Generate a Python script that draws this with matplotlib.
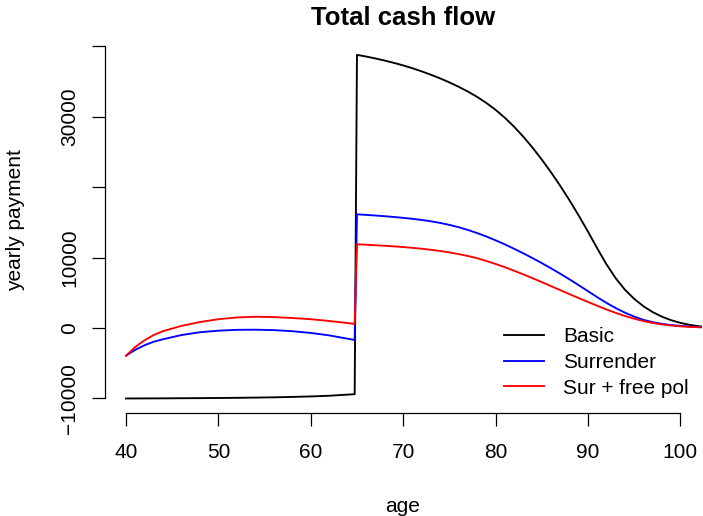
import numpy as np
import matplotlib
matplotlib.use("Agg")
import matplotlib.pyplot as plt

plt.rcParams['font.family'] = ['Liberation Sans', 'DejaVu Sans']

# ages: working years, then yearly after retirement at 65
age_pre = [40, 41, 42, 43, 44, 46, 48, 50, 52, 54, 56, 58, 60, 62, 64.75]
age_post = list(range(65, 104))
age = age_pre + age_post

basic = [-10010, -10005, -10000, -9995, -9990, -9975, -9960, -9940, -9915, -9885,
         -9845, -9790, -9720, -9620, -9400,
         38800, 38560, 38290, 37990, 37660, 37300, 36900, 36460, 35980, 35460,
         34890, 34270, 33590, 32830, 31970, 30990, 29870, 28600, 27180, 25620,
         23930, 22120, 20190, 18140, 15970, 13690, 11320, 9050, 7070, 5440,
         4140, 3090, 2260, 1610, 1110, 730, 450, 250, 110]

surrender = [-3930, -3100, -2450, -1950, -1600, -1000, -600, -380, -260, -240,
             -300, -450, -700, -1050, -1700,
             16150, 16070, 15980, 15880, 15770, 15650, 15510, 15350, 15160, 14930,
             14650, 14320, 13930, 13490, 13000, 12460, 11880, 11260, 10610, 9930,
             9220, 8480, 7710, 6910, 6080, 5230, 4380, 3570, 2830, 2180,
             1620, 1160, 830, 590, 420, 300, 210, 150, 110]

sur_free = [-3930, -2700, -1750, -1000, -450, 300, 850, 1250, 1500, 1600,
            1550, 1420, 1250, 1000, 580,
            11900, 11830, 11760, 11680, 11600, 11500, 11390, 11260, 11110, 10940,
            10740, 10500, 10230, 9920, 9520, 9100, 8640, 8140, 7620, 7080,
            6520, 5950, 5380, 4810, 4250, 3700, 3160, 2640, 2150, 1710,
            1320, 990, 720, 510, 350, 240, 160, 100, 60]

labels = ["Basic", "Surrender", "Sur + free pol"]
colors = ["black", "blue", "red"]

W, H = 703, 516
fig = plt.figure(figsize=(W / 100, H / 100), dpi=100)
ax = fig.add_axes([105 / W, (H - 412.7) / H, (702 - 105) / W, (412.7 - 41) / H])

for ys, lab, c in zip([basic, surrender, sur_free], labels, colors):
    ax.plot(age, ys, color=c, lw=1.35, label=lab)

ax.set_xlim(37.73, 102.34)
ax.set_ylim(-12030, 40770)

ax.set_xticks([40, 50, 60, 70, 80, 90, 100])
ax.set_yticks([-10000, 0, 10000, 20000, 30000, 40000])
ax.set_yticklabels(["\u221210000", "0", "10000", "", "30000", ""])
for lbl in ax.get_yticklabels():
    lbl.set_rotation(90)
    lbl.set_va("center")

ax.spines['top'].set_visible(False)
ax.spines['right'].set_visible(False)
ax.spines['left'].set_bounds(-10000, 40000)
ax.spines['bottom'].set_bounds(40, 100)
for s in ['left', 'bottom']:
    ax.spines[s].set_linewidth(0.9)
ax.tick_params(axis='both', length=9.5, width=0.9, labelsize=15)
ax.tick_params(axis='x', pad=12)
ax.tick_params(axis='y', pad=9)

fig.text(403 / W, 1 - 18 / H, "Total cash flow", ha='center', va='center',
         fontsize=18.5, fontweight='bold')
fig.text(403 / W, 1 - 506 / H, "age", ha='center', va='center', fontsize=15)
fig.text(16 / W, 1 - 220 / H, "yearly payment", ha='center', va='center',
         rotation=90, fontsize=15)

ax.legend(loc='upper left', bbox_to_anchor=(504 / W, 1 - 327 / H),
          bbox_transform=fig.transFigure, frameon=False, fontsize=15,
          handlelength=1.93, handletextpad=0.9, labelspacing=0.33,
          borderpad=0, borderaxespad=0)

fig.savefig("out.png", dpi=100)
